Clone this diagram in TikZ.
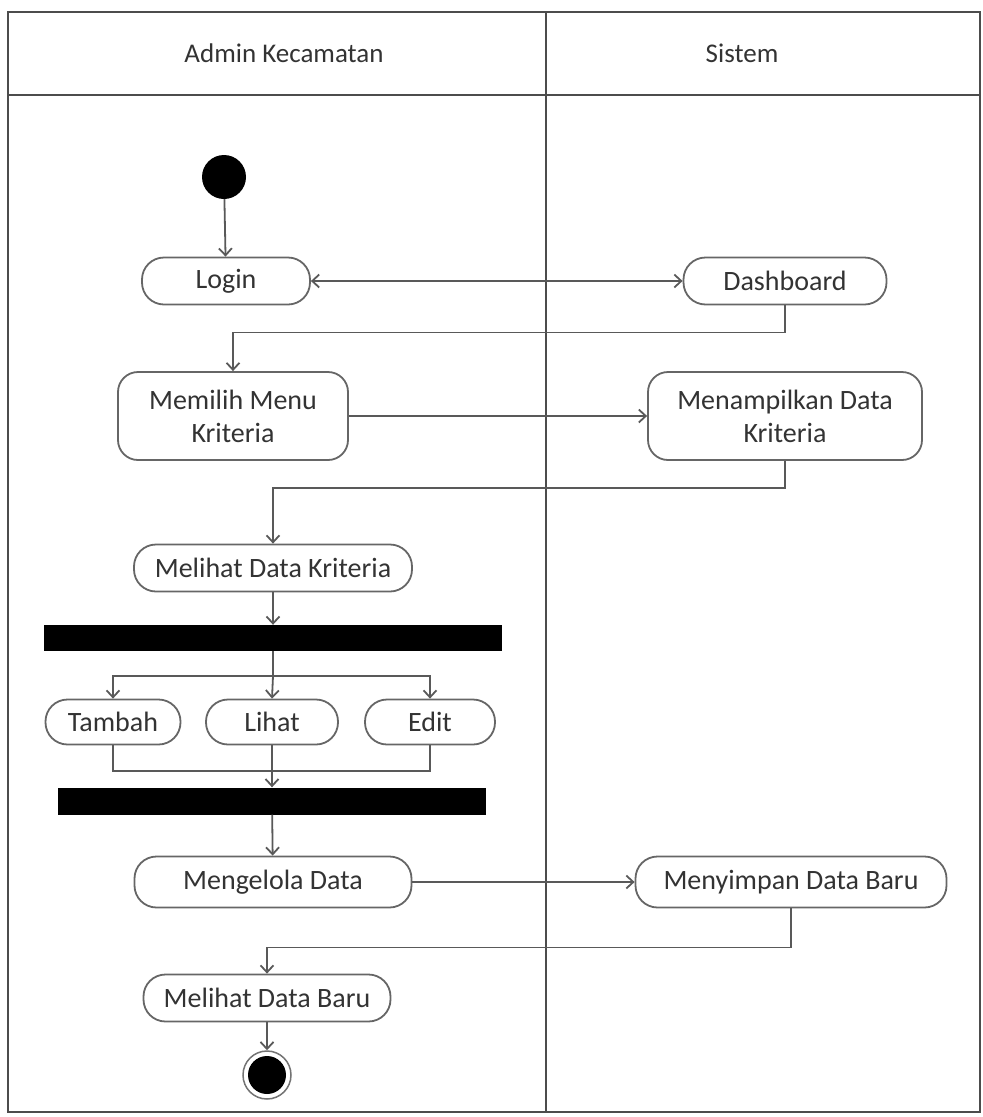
\documentclass[tikz,border=0pt]{standalone}
\usepackage{fontspec}
\setmainfont{Carlito}
\usetikzlibrary{arrows.meta}

\begin{document}
\begin{tikzpicture}[x=1pt,y=-1pt,
  frame/.style={draw=black!70, line width=1.6pt},
  line/.style={draw=black!65, line width=1.8pt},
  flow/.style={line, -{Straight Barb[length=7pt,width=13pt]}},
  twoway/.style={line, {Straight Barb[length=7pt,width=13pt]}-{Straight Barb[length=7pt,width=13pt]}},
  act/.style={draw=black!60, line width=1.8pt, rounded corners=22pt, fill=white,
    text=black!80, font=\fontsize{28}{33}\selectfont, align=center, inner sep=0pt},
  tall/.style={act, rounded corners=20pt},
  bar/.style={rectangle, fill=black, draw=none, inner sep=0pt},
  lane/.style={text=black!80, font=\fontsize{27}{32}\selectfont},
]
\useasboundingbox (0,0) rectangle (983,1117);

% swimlane frame
\draw[frame] (8,12) rectangle (980,1112);
\draw[frame] (8,95) -- (980,95);
\draw[frame] (546,12) -- (546,1112);
\node[lane] (laneA) at (284,53) {Admin Kecamatan};
\node[lane] (laneB) at (742,53) {Sistem};

% activities
\node[circle, fill=black, minimum size=44pt, inner sep=0pt] (start) at (224,177) {};
\node[act, minimum width=168pt, minimum height=47pt] (login) at (226,281) {Login};
\node[act, minimum width=203pt, minimum height=47pt] (dash) at (785,281) {Dashboard};
\node[tall, minimum width=230pt, minimum height=88pt] (menu) at (233,416) {Memilih Menu\\Kriteria};
\node[tall, minimum width=274pt, minimum height=88pt] (tampil) at (785,416) {Menampilkan Data\\Kriteria};
\node[act, minimum width=278pt, minimum height=47pt] (lihatkrit) at (273,568) {Melihat Data Kriteria};
\node[bar, minimum width=458pt, minimum height=26pt] (fork) at (273,638) {};
\node[act, minimum width=135pt, minimum height=45pt] (tambah) at (113,722) {Tambah};
\node[act, minimum width=132pt, minimum height=45pt] (lihat) at (272,722) {Lihat};
\node[act, minimum width=130pt, minimum height=45pt] (edit) at (430,722) {Edit};
\node[bar, minimum width=428pt, minimum height=27pt] (join) at (272,801) {};
\node[act, minimum width=277pt, minimum height=51pt] (kelola) at (273,882) {Mengelola Data};
\node[act, minimum width=311pt, minimum height=51pt] (simpan) at (791,882) {Menyimpan Data Baru};
\node[act, minimum width=247pt, minimum height=47pt] (lihatbaru) at (267,998) {Melihat Data Baru};
\node[circle, draw=black!55, line width=1.5pt, fill=white, minimum size=48pt, inner sep=0pt] (stop) at (267,1075) {};
\node[circle, fill=black, minimum size=38pt, inner sep=0pt] (stopdot) at (stop.center) {};

% control flow
\draw[flow] (start) -- (login);
\draw[twoway] (login) -- (dash);
\draw[flow] (dash.south) -- ++(0,27) -| (menu.north);
\draw[flow] (menu) -- (tampil);
\draw[flow] (tampil.south) -- ++(0,27) -| (lihatkrit.north);
\draw[flow] (lihatkrit) -- (fork);
\draw[line] (fork.south) -- ++(0,25) coordinate (split);
\draw[flow] (split) -| (tambah.north);
\draw[flow] (split) -| (edit.north);
\draw[flow] (split) -- (lihat.north);
\coordinate (merge) at (lihat.south |- 0,771);
\draw[line] (tambah.south) |- (merge);
\draw[line] (edit.south) |- (merge);
\draw[flow] (lihat.south) -- (join.north);
\draw[flow] (join) -- (kelola);
\draw[flow] (kelola) -- (simpan);
\draw[flow] (simpan.south) -- ++(0,39) -| (lihatbaru.north);
\draw[flow] (lihatbaru) -- (stop);
\end{tikzpicture}
\end{document}
